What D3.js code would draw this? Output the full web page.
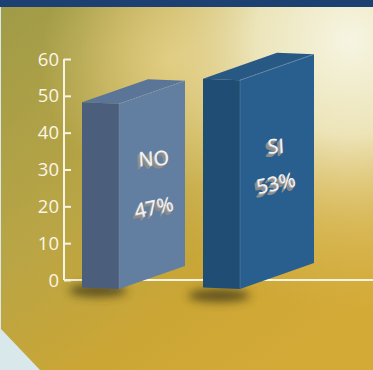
<!DOCTYPE html>
<html><head><meta charset="utf-8">
<script src="https://cdn.jsdelivr.net/npm/d3@7"></script>
<style>html,body{margin:0;padding:0;overflow:hidden;background:#d9e8ea}</style>
</head><body>
<script>
const categories = ["NO", "SI"];
const values = [47, 53];
const pctLabels = ["47%", "53%"];
const tickValues = [0, 10, 20, 30, 40, 50, 60];

const W = 373, H = 370;
const svg = d3.select("body").append("svg").attr("width", W).attr("height", H);
const defs = svg.append("defs");

// background gradients
const lg = defs.append("linearGradient").attr("id","bgLin").attr("x1","0").attr("y1","0").attr("x2","0.75").attr("y2","1");
lg.append("stop").attr("offset","0").attr("stop-color","#a09b48");
lg.append("stop").attr("offset","0.45").attr("stop-color","#b9a545");
lg.append("stop").attr("offset","0.75").attr("stop-color","#cba635");
lg.append("stop").attr("offset","1").attr("stop-color","#d4aa37");
const rg = defs.append("radialGradient").attr("id","bgRad").attr("gradientUnits","userSpaceOnUse")
  .attr("cx",350).attr("cy",40).attr("r",270);
rg.append("stop").attr("offset","0").attr("stop-color","#f6f5e2").attr("stop-opacity",1);
rg.append("stop").attr("offset","0.35").attr("stop-color","#f1ebc6").attr("stop-opacity",0.9);
rg.append("stop").attr("offset","0.7").attr("stop-color","#e6cf83").attr("stop-opacity",0.4);
rg.append("stop").attr("offset","1").attr("stop-color","#e0c060").attr("stop-opacity",0);
const rg2 = defs.append("radialGradient").attr("id","bgRad2").attr("gradientUnits","userSpaceOnUse")
  .attr("cx",170).attr("cy",60).attr("r",130);
rg2.append("stop").attr("offset","0").attr("stop-color","#ecd894").attr("stop-opacity",0.75);
rg2.append("stop").attr("offset","1").attr("stop-color","#ecd894").attr("stop-opacity",0);

const blur = defs.append("filter").attr("id","shadowBlur").attr("x","-50%").attr("y","-100%").attr("width","200%").attr("height","300%");
blur.append("feGaussianBlur").attr("stdDeviation","5");

// background panel (with cut corner bottom-left)
const panel = "M1,7 L373,7 L373,370 L40,370 L1,329 Z";
svg.append("path").attr("d", panel).attr("fill","url(#bgLin)");
svg.append("path").attr("d", panel).attr("fill","url(#bgRad2)");
svg.append("path").attr("d", panel).attr("fill","url(#bgRad)");
svg.append("rect").attr("x",0).attr("y",0).attr("width",W).attr("height",7).attr("fill","#1c4071");

// scales
const y = d3.scaleLinear().domain([0, 60]).range([280, 59]);
const yBar = d3.scaleLinear().domain([0, 60]).range([287.5, 287.5 - 60 * 3.94]);
const x = d3.scalePoint().domain(categories).range([82, 203]);
const frontW = 37;
const depth = c => { const xv = x(c); return { dx: 66 + (xv - 82) * 8 / 121, dy: -23 - (xv - 82) * 3 / 121 }; };

// axis
const axisG = svg.append("g").attr("transform","translate(64,0)");
axisG.call(d3.axisRight(y).tickValues(tickValues).tickSize(7).tickFormat(""));
axisG.select(".domain").attr("stroke","#f8f4e4").attr("stroke-width",2).attr("d","M0,"+y(60)+"V"+y(0));
axisG.selectAll(".tick line").attr("stroke","#f8f4e4").attr("stroke-width",2);
svg.append("g").selectAll("text").data(tickValues).join("text")
  .attr("x",59).attr("y",d=>y(d)).attr("dy","0.36em").attr("text-anchor","end")
  .attr("font-family","'Open Sans', Lato, sans-serif").attr("font-size",18.5)
  .attr("fill","#fbf6e6").text(d=>d);
svg.append("line").attr("x1",64).attr("x2",W).attr("y1",y(0)).attr("y2",y(0))
  .attr("stroke","#f8f4e4").attr("stroke-width",2);

const colors = {
  NO: { front:"#4b5f7c", side:"#627fa1", top:"#5a7597" },
  SI: { front:"#1f4d73", side:"#295f8e", top:"#285985" }
};
// label placement offsets relative to the side face (name, pct)
const labelOffsets = { NO: [-25, 24], SI: [-24, 13] };

const data = categories.map((c,i)=>({c, v: values[i], p: pctLabels[i]}));

// shadows
svg.append("g").selectAll("ellipse").data(data).join("ellipse")
  .attr("cx", d => x(d.c) + 16).attr("cy", d => yBar(0) + 3 + (d.c==="SI"?5:0))
  .attr("rx", d => d.c==="SI" ? 31 : 29).attr("ry", 6.5)
  .attr("fill","#3a3418").attr("opacity",0.75).attr("filter","url(#shadowBlur)");

const bars = svg.append("g").selectAll("g").data(data).join("g");
bars.each(function(d){
  const g = d3.select(this);
  const x0 = x(d.c), x1 = x0 + frontW;
  const yt = yBar(d.v), yb = yBar(0);
  const {dx, dy} = depth(d.c);
  const col = colors[d.c];
  g.append("path").attr("d",`M${x1},${yt+1.5} L${x1+dx},${yt+1.5+dy} L${x1+dx},${yb+1.5+dy} L${x1},${yb+1.5} Z`).attr("fill",col.side);
  g.append("path").attr("d",`M${x0},${yt} L${x1},${yt+1.5} L${x1+dx},${yt+1.5+dy} L${x0+dx},${yt+dy} Z`).attr("fill",col.top);
  g.append("path").attr("d",`M${x0},${yt} L${x1},${yt+1.5} L${x1},${yb+1.5} L${x0},${yb} Z`).attr("fill",col.front);
  g.append("line").attr("x1",x1).attr("y1",yt+1.5).attr("x2",x1+dx).attr("y2",yt+1.5+dy)
    .attr("stroke","#8fa6bd").attr("stroke-width",0.8).attr("stroke-dasharray","2,1").attr("opacity",0.7);
  g.append("line").attr("x1",x1).attr("y1",yt+1.5).attr("x2",x1).attr("y2",yb+1.5)
    .attr("stroke","#7d92aa").attr("stroke-width",0.6).attr("opacity",0.6);

  const cx = x1 + dx/2 + (d.c==="NO" ? 2 : -1);
  const yMid = (yt + yb)/2 + dy/2;
  const off = labelOffsets[d.c];
  const labels = [
    {t:d.c, yy: yMid + off[0], rot: -3},
    {t:d.p, yy: yMid + off[1], rot: -12}
  ];
  labels.forEach(L=>{
    const tg = g.append("g").attr("transform",`translate(${cx},${L.yy}) rotate(${L.rot})`);
    for (let k=4;k>=1;k--){
      tg.append("text").attr("x",-k*0.9).attr("y",k*0.8).attr("text-anchor","middle").attr("dy","0.35em")
        .attr("font-family","'Open Sans', Lato, sans-serif").attr("font-size",20)
        .attr("fill", k===1 ? "#b8b8b8" : "#8c8c8c").text(L.t);
    }
    tg.append("text").attr("x",0).attr("y",0).attr("text-anchor","middle").attr("dy","0.35em")
      .attr("font-family","'Open Sans', Lato, sans-serif").attr("font-size",20)
      .attr("fill","#f4f4f4").text(L.t);
  });
});
</script>
</body></html>
